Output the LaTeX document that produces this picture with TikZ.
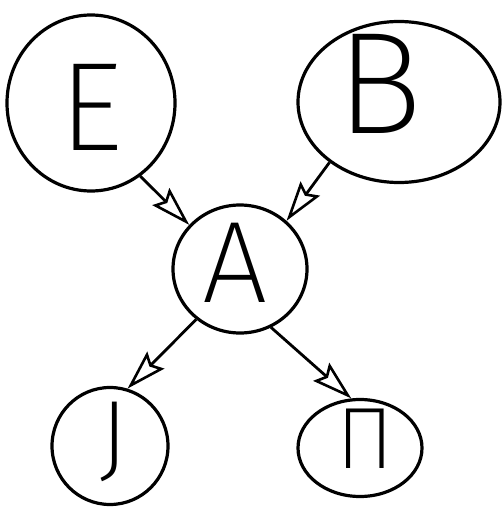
\documentclass[tikz,border=0pt]{standalone}
\usepackage{fontspec}
\newfontfamily\handfont{Fira Sans ExtraLight}
\usetikzlibrary{shapes.geometric,arrows.meta}
\tikzset{
  bubble/.style={draw, ellipse, line width=3.2pt, inner sep=0pt},
  letter/.style={inner sep=0pt, anchor=base, font=\handfont},
  conn/.style={line width=2.8pt, -{Stealth[open, length=40pt, width=24pt, inset=6pt, line width=2.6pt]}}
}
\begin{document}
\begin{tikzpicture}[x=1pt,y=-1pt]
\useasboundingbox (0,0) rectangle (503,511);
% bubbles
\node[bubble, minimum width=168pt, minimum height=176pt] (E) at (91,103) {};
\node[bubble, minimum width=202pt, minimum height=161pt] (B) at (399,102) {};
\node[bubble, minimum width=134pt, minimum height=128pt] (A) at (240,269) {};
\node[bubble, minimum width=116pt, minimum height=117pt] (J) at (110,446) {};
\node[bubble, minimum width=124pt, minimum height=97pt] (P) at (360,448) {};
% letters
\node[letter, font=\handfont\fontsize{126}{126}\selectfont] (tE) at (91,150) {E};
\node[letter, font=\handfont\fontsize{145}{145}\selectfont] (tB) at (380,133) {B};
\node[letter, font=\handfont\fontsize{116}{116}\selectfont] (tA) at (235,302) {A};
\node[letter, font=\handfont\fontsize{100}{100}\selectfont] (tJ) at (114,470) {J};
\node[letter, font=\handfont\fontsize{87}{87}\selectfont] (tP) at (365,468) {П};
% connectors
\draw[conn] (E.-56) -- (A.139);
\draw[conn] (B.221) -- (A.46);
\draw[conn] (A.229) -- (J.73);
\draw[conn] (A.-62) -- (P.100);
\end{tikzpicture}
\end{document}
